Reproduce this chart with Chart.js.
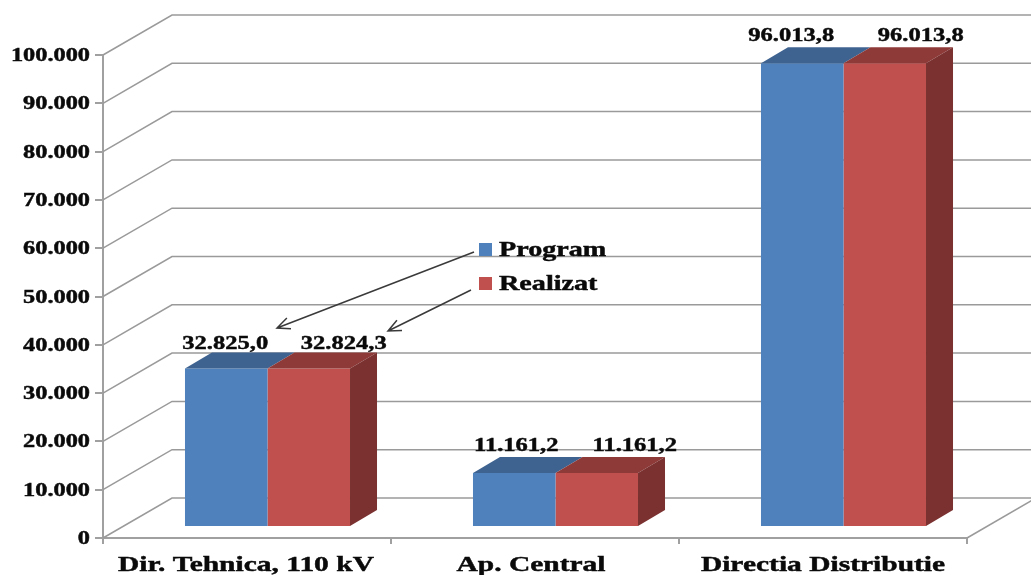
<!DOCTYPE html>
<html>
<head>
<meta charset="utf-8">
<title>Program / Realizat</title>
<script src="https://cdn.jsdelivr.net/npm/chart.js@4"></script>
<style>
    html, body { margin: 0; padding: 0; background: #fff; }
    canvas { display: block; }
</style>
</head>
<body>
<canvas id="chart3d" width="1031" height="575"></canvas>
<script>
// date
const categories = ['Dir. Tehnica, 110 kV', 'Ap. Central', 'Directia Distributie'];
const programValues = [32825.0, 11161.2, 96013.8];
const realizatValues = [32824.3, 11161.2, 96013.8];
const tickValues = [0, 10000, 20000, 30000, 40000, 50000, 60000, 70000, 80000, 90000, 100000];

const SERIF = '"Liberation Serif", "Times New Roman", serif';
const WALL = { dx: 69, dy: -40 };    // perete spate fata de axa
const BAR_SHIFT = { dx: 20.5, dy: -11 }; // pozitia barelor pe podea
const BAR_DEPTH = { dx: 27, dy: -16 };
// etichetele sunt mutate manual, ca in original
const labelShift = [
    [[-1, -9], [35, -9]],
    [[2, -12], [38, -12]],
    [[-11, -12], [36, -12]],
];
const categoryShift = [-1, -4, 0];

function fmtThousands(v) {
    return String(v).replace(/\B(?=(\d{3})+$)/g, '.');
}

function fmtValue(v) {
    const [whole, dec] = v.toFixed(1).split('.');
    return fmtThousands(whole) + ',' + dec;
}

// textul din original e latit pe orizontala si mai gros
function wideText(ctx, text, x, y, size, sx, align) {
    ctx.save();
    ctx.font = `bold ${size}px ${SERIF}`;
    ctx.fillStyle = '#0a0a0a';
    ctx.strokeStyle = '#0a0a0a';
    ctx.lineWidth = 0.45;
    ctx.textAlign = align;
    ctx.textBaseline = 'alphabetic';
    ctx.translate(x, y);
    ctx.scale(sx, 1);
    ctx.fillText(text, 0, 0);
    ctx.strokeText(text, 0, 0);
    ctx.restore();
}

function poly(ctx, pts, color) {
    ctx.beginPath();
    pts.forEach((p, i) => (i ? ctx.lineTo(p[0], p[1]) : ctx.moveTo(p[0], p[1])));
    ctx.closePath();
    ctx.fillStyle = color;
    ctx.fill();
}

function arrow(ctx, x1, y1, x2, y2) {
    const a = Math.atan2(y1 - y2, x1 - x2);
    ctx.save();
    ctx.strokeStyle = '#3a3a3a';
    ctx.lineWidth = 1.5;
    ctx.beginPath();
    ctx.moveTo(x1, y1);
    ctx.lineTo(x2, y2);
    ctx.moveTo(x2 + 14 * Math.cos(a - 0.42), y2 + 14 * Math.sin(a - 0.42));
    ctx.lineTo(x2, y2);
    ctx.lineTo(x2 + 14 * Math.cos(a + 0.42), y2 + 14 * Math.sin(a + 0.42));
    ctx.stroke();
    ctx.restore();
}

const box3d = {
    id: 'box3d',
    beforeDatasetsDraw(chart) {
        const { ctx, chartArea, scales } = chart;
        ctx.save();
        ctx.strokeStyle = '#9a9a9a';
        ctx.lineWidth = 1.5;
        // liniile de grila pe perete si podea
        tickValues.forEach((v) => {
            const y = scales.y.getPixelForValue(v);
            ctx.beginPath();
            ctx.moveTo(chartArea.left, y);
            ctx.lineTo(chartArea.left + WALL.dx, y + WALL.dy);
            ctx.lineTo(chart.width, y + WALL.dy);
            ctx.stroke();
        });
        const y0 = scales.y.getPixelForValue(0);
        ctx.beginPath();
        ctx.moveTo(chartArea.right, y0);
        ctx.lineTo(chartArea.right + WALL.dx, y0 + WALL.dy);
        ctx.stroke();
        ctx.restore();
        // barele se deseneaza mutate spre fundul podelei
        ctx.save();
        ctx.translate(BAR_SHIFT.dx, BAR_SHIFT.dy);
    },
    afterDatasetsDraw(chart) {
        const { ctx } = chart;
        const { dx, dy } = BAR_DEPTH;
        const tops = ['#3f6391', '#8e3a38'];
        chart.data.datasets.forEach((ds, i) => {
            chart.getDatasetMeta(i).data.forEach((bar) => {
                const l = bar.x - bar.width / 2;
                const r = bar.x + bar.width / 2;
                poly(ctx, [[l, bar.y], [l + dx, bar.y + dy], [r + dx, bar.y + dy], [r, bar.y]], tops[i]);
                if (i === 1) {
                    poly(ctx, [[r, bar.y], [r + dx, bar.y + dy], [r + dx, bar.base + dy], [r, bar.base]], '#7a3130');
                }
            });
        });
        ctx.restore();

        // etichete de valoare
        chart.data.datasets.forEach((ds, i) => {
            chart.getDatasetMeta(i).data.forEach((bar, j) => {
                const [sx, sy] = labelShift[j][i];
                wideText(ctx, fmtValue(ds.data[j]), bar.x + BAR_SHIFT.dx + sx,
                    bar.y + BAR_SHIFT.dy + BAR_DEPTH.dy + sy + 6, 19, 1.29, 'center');
            });
        });
    },
    afterDraw(chart) {
        const { ctx, scales } = chart;
        // etichetele axelor
        tickValues.forEach((v) => {
            wideText(ctx, fmtThousands(v), 90, scales.y.getPixelForValue(v) + 6, 19, 1.28, 'right');
        });
        categories.forEach((c, i) => {
            wideText(ctx, c, scales.x.getPixelForTick(i) + categoryShift[i], 571, 22, 1.34, 'center');
        });
        // legenda din mijloc, cu sagetile ei
        const legend = [['Program', '#4f81bd', 243], ['Realizat', '#c0504d', 277]];
        legend.forEach(([name, color, y]) => {
            ctx.fillStyle = color;
            ctx.fillRect(479, y, 13, 13);
            wideText(ctx, name, 499, y + 13, 21, 1.34, 'left');
        });
        arrow(ctx, 474, 252, 277, 328);
        arrow(ctx, 471, 290, 388, 331);
    },
};

new Chart(document.getElementById('chart3d'), {
    type: 'bar',
    data: {
        labels: categories,
        datasets: [
            { label: 'Program', data: programValues, backgroundColor: '#4f81bd', clip: false },
            { label: 'Realizat', data: realizatValues, backgroundColor: '#c0504d', clip: false },
        ],
    },
    options: {
        responsive: false,
        animation: false,
        layout: { padding: { left: 95, right: 64, top: 55, bottom: 31 } },
        plugins: { legend: { display: false }, tooltip: { enabled: false } },
        datasets: { bar: { categoryPercentage: 0.573, barPercentage: 1 } },
        scales: {
            x: {
                grid: { drawOnChartArea: false, color: '#a0a0a0', lineWidth: 2, tickLength: 6 },
                border: { color: '#a0a0a0', width: 2 },
                ticks: { display: false },
            },
            y: {
                min: 0,
                max: 100000,
                afterBuildTicks: (scale) => { scale.ticks = tickValues.map((value) => ({ value })); },
                grid: { drawOnChartArea: false, color: '#a0a0a0', lineWidth: 2, tickLength: 8 },
                border: { color: '#a0a0a0', width: 2 },
                ticks: { display: false },
            },
        },
    },
    plugins: [box3d],
});
</script>
</body>
</html>
